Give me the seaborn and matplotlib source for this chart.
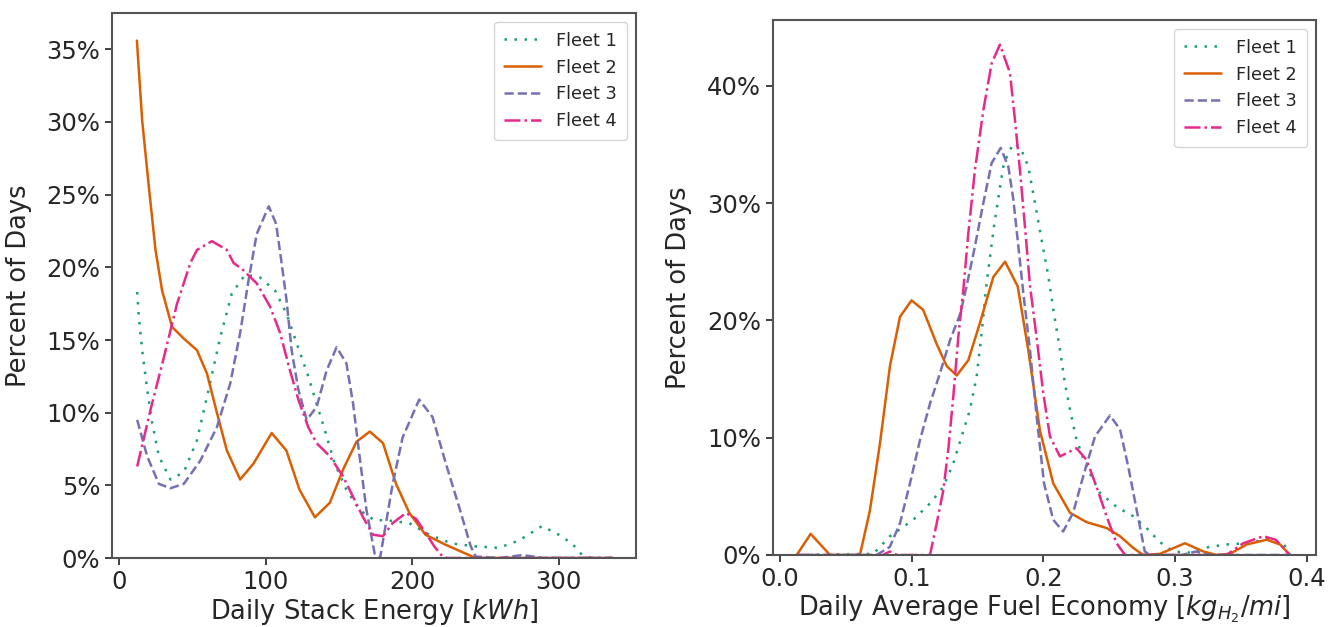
import numpy as np
import pandas as pd
import matplotlib
matplotlib.use("Agg")
import matplotlib.pyplot as plt
import seaborn as sns

# ---------------- data ----------------
fleets = ["Fleet 1", "Fleet 2", "Fleet 3", "Fleet 4"]

# Left panel: Daily Stack Energy [kWh] vs percent of days
e_f1_x = [12.2, 13.3, 15.6, 19, 22.4, 27, 34.9, 44, 53, 61, 68.9, 76.8, 85.9, 96, 106.3, 114.2, 122, 129, 134.7, 140.3, 147, 155, 164, 174, 182, 198, 211.5, 227, 243, 259, 272.7, 288.6, 300, 309, 316, 322.6, 337]
e_f1_y = [18.3, 16.6, 14.3, 11.6, 9.3, 7.0, 5.4, 5.9, 8.1, 11.6, 15.2, 18.2, 19.5, 19.3, 18.4, 16.8, 14.5, 12.5, 10.6, 8.8, 6.5, 4.7, 3.3, 2.6, 2.6, 2.4, 1.6, 1.0, 0.8, 0.7, 1.2, 2.2, 1.6, 1.0, 0.2, 0.0, 0.0]

e_f2_x = [12.0, 15.6, 20.2, 24.7, 29.2, 36, 44, 53, 59.8, 66.6, 73.4, 82.5, 91.6, 104, 114, 123, 133.5, 143.7, 152.8, 161.9, 171, 180, 188.9, 198, 209, 223, 241, 245, 337]
e_f2_y = [35.6, 30.1, 25.5, 21.2, 18.4, 15.9, 15.1, 14.3, 12.7, 10.0, 7.4, 5.4, 6.5, 8.6, 7.4, 4.7, 2.8, 3.8, 6.1, 8.0, 8.7, 7.9, 5.1, 3.1, 1.6, 0.9, 0.1, 0.0, 0.0]

e_f3_x = [12.2, 19, 27, 34.9, 44, 55.3, 66.6, 75.7, 82.5, 88.2, 93.8, 102, 107, 110.5, 114.2, 117.6, 122.2, 127.9, 134.7, 141.5, 148.3, 155, 159.6, 164, 168.7, 174.3, 178, 186.6, 193.4, 204.7, 213.8, 222.9, 232, 239.9, 243.3, 260, 275, 290, 337]
e_f3_y = [9.5, 7.0, 5.1, 4.8, 5.1, 6.7, 9.0, 12.0, 15.5, 19.1, 22.3, 24.2, 23.0, 20.5, 17.7, 14.3, 11.6, 9.5, 10.4, 12.9, 14.5, 13.4, 10.6, 7.0, 3.3, 0.3, 0.0, 5.1, 8.3, 10.9, 9.7, 6.5, 3.5, 0.8, 0.1, 0.0, 0.2, 0.0, 0.0]

e_f4_x = [12.2, 21.3, 30.4, 39.4, 48.5, 53, 63.2, 73.4, 78, 83.6, 93.8, 102.9, 109.7, 116.5, 122.2, 129, 134.7, 143.7, 152.8, 159.6, 166.4, 173.2, 180, 186.6, 195.7, 202.5, 209.3, 215, 220.6, 224, 337]
e_f4_y = [6.3, 10.2, 13.8, 17.5, 20.3, 21.2, 21.8, 21.2, 20.3, 19.9, 18.9, 17.3, 15.5, 12.9, 10.9, 9.0, 7.9, 7.0, 5.6, 4.2, 2.8, 1.6, 1.5, 2.4, 3.1, 2.7, 1.7, 0.8, 0.1, 0.0, 0.0]

# Right panel: Daily Average Fuel Economy [kg_H2/mi] vs percent of days
f_f1_x = [0.0127, 0.0709, 0.0835, 0.1012, 0.1139, 0.124, 0.1316, 0.1379, 0.1443, 0.1493, 0.1531, 0.1569, 0.1625, 0.1663, 0.170, 0.1772, 0.1827, 0.1886, 0.1936, 0.1986, 0.2037, 0.208, 0.2126, 0.2164, 0.2202, 0.2252, 0.2328, 0.2429, 0.2556, 0.2683, 0.2783, 0.2885, 0.2986, 0.31, 0.3215, 0.339, 0.3544, 0.372, 0.3822, 0.3872]
f_f1_y = [0.0, 0.1, 1.6, 3.0, 4.4, 5.8, 7.8, 10.1, 12.4, 15.2, 18.9, 23.2, 28.0, 30.8, 33.4, 35.1, 34.7, 33.1, 30.0, 26.9, 23.8, 20.6, 17.5, 14.6, 12.4, 9.8, 7.5, 5.3, 4.1, 3.3, 2.3, 1.1, 0.3, 0.2, 0.6, 0.9, 1.0, 1.4, 1.0, 0.0]

f_f2_x = [0.0127, 0.0233, 0.038, 0.0607, 0.0683, 0.0759, 0.0835, 0.0911, 0.0999, 0.1087, 0.1189, 0.1266, 0.1342, 0.143, 0.1519, 0.162, 0.1709, 0.1805, 0.1885, 0.1974, 0.2075, 0.2202, 0.2328, 0.248, 0.2582, 0.2683, 0.2758, 0.2885, 0.3075, 0.3215, 0.3316, 0.3417, 0.3544, 0.3696, 0.3797, 0.3872]
f_f2_y = [0.0, 1.8, 0.0, 0.0, 3.8, 9.5, 16.1, 20.3, 21.7, 20.9, 18.0, 16.1, 15.3, 16.6, 19.8, 23.7, 25.0, 22.9, 17.5, 10.6, 6.1, 3.6, 2.8, 2.3, 1.6, 0.6, 0.0, 0.1, 1.0, 0.3, 0.0, 0.1, 0.9, 1.3, 0.9, 0.0]

f_f3_x = [0.0127, 0.0734, 0.0835, 0.0911, 0.0987, 0.1063, 0.1139, 0.1215, 0.1291, 0.1367, 0.1417, 0.148, 0.1544, 0.1607, 0.1676, 0.1734, 0.1772, 0.181, 0.1848, 0.1898, 0.1949, 0.2005, 0.2075, 0.215, 0.2226, 0.2302, 0.2392, 0.2506, 0.2582, 0.2645, 0.2709, 0.277, 0.281, 0.305, 0.316, 0.326, 0.3872]
f_f3_y = [0.0, 0.0, 0.7, 2.7, 6.1, 9.8, 12.9, 15.5, 18.3, 20.5, 22.9, 26.3, 30.0, 33.4, 34.7, 33.1, 30.3, 26.3, 22.3, 17.5, 11.8, 6.1, 3.0, 2.0, 3.6, 6.7, 10.1, 11.9, 10.7, 7.5, 3.8, 0.3, 0.0, 0.0, 0.3, 0.0, 0.0]

f_f4_x = [0.0127, 0.078, 0.0835, 0.089, 0.1139, 0.119, 0.124, 0.1278, 0.1316, 0.1354, 0.1392, 0.1430, 0.148, 0.1544, 0.1607, 0.167, 0.1746, 0.1784, 0.1822, 0.186, 0.1898, 0.1949, 0.1999, 0.2050, 0.2126, 0.2252, 0.2328, 0.2404, 0.248, 0.2556, 0.262, 0.339, 0.3518, 0.367, 0.3764, 0.3872]
f_f4_y = [0.0, 0.0, 0.3, 0.0, 0.0, 2.7, 5.5, 9.0, 13.5, 18.6, 22.6, 27.4, 32.8, 37.9, 41.9, 43.5, 41.1, 37.1, 32.8, 28.0, 23.0, 18.5, 13.8, 10.1, 8.4, 9.1, 8.1, 5.8, 3.3, 1.0, 0.0, 0.0, 1.0, 1.6, 1.3, 0.0]

energy_ticks = [0, 100, 200, 300]
econ_ticks = [0.0, 0.1, 0.2, 0.3, 0.4]
energy_pct_ticks = [0, 5, 10, 15, 20, 25, 30, 35]
econ_pct_ticks = [0, 10, 20, 30, 40]

# ---------------- style ----------------
sns.set_theme(style="ticks")
plt.rcParams["font.family"] = ["DejaVu Sans"]
plt.rcParams["mathtext.fontset"] = "dejavusans"

colors = ["#1b9e77", "#d95f02", "#7570b3", "#e7298a"]
styles = [(0, (1, 3.0)), "-", "--", "-."]
lw = 1.8

fig = plt.figure(figsize=(13.3, 6.27), dpi=100)
ax1 = fig.add_axes([112 / 1330, 69 / 627, 524 / 1330, 545 / 627])
ax2 = fig.add_axes([773 / 1330, 72 / 627, 543 / 1330, 535 / 627])

left = [(e_f1_x, e_f1_y), (e_f2_x, e_f2_y), (e_f3_x, e_f3_y), (e_f4_x, e_f4_y)]
right = [(f_f1_x, f_f1_y), (f_f2_x, f_f2_y), (f_f3_x, f_f3_y), (f_f4_x, f_f4_y)]

for ax, series in [(ax1, left), (ax2, right)]:
    for name, (xs, ys), c, ls in zip(fleets, series, colors, styles):
        df = pd.DataFrame({"x": xs, "y": ys})
        sns.lineplot(data=df, x="x", y="y", ax=ax, color=c, linestyle=ls,
                     linewidth=lw, label=name, sort=False, estimator=None)
    for line in ax.get_lines():
        line.set_solid_joinstyle("round")
        line.set_dash_joinstyle("round")

ax1.set_xlim(-5.0, 352.7)
ax1.set_ylim(0, 37.5)
ax1.set_xticks(energy_ticks)
ax1.set_yticks(energy_pct_ticks)
ax1.set_yticklabels([f"{v}%" for v in energy_pct_ticks])
ax1.set_xlabel("Daily Stack Energy [$kWh$]", fontsize=18.5)
ax1.set_ylabel("Percent of Days", fontsize=18.5)
ax1.xaxis.set_label_coords(0.5, -0.072)
ax1.yaxis.set_label_coords(-0.153, 0.5)

ax2.set_xlim(-0.0053, 0.407)
ax2.set_ylim(0, 45.6)
ax2.set_xticks(econ_ticks)
ax2.set_xticklabels([f"{v:.1f}" for v in econ_ticks])
ax2.set_yticks(econ_pct_ticks)
ax2.set_yticklabels([f"{v}%" for v in econ_pct_ticks])
ax2.set_xlabel("Daily Average Fuel Economy [$kg_{H_2}/mi$]", fontsize=18.5)
ax2.set_ylabel("Percent of Days", fontsize=18.5)
ax2.xaxis.set_label_coords(0.5, -0.072)
ax2.yaxis.set_label_coords(-0.149, 0.5)

for ax in (ax1, ax2):
    ax.tick_params(axis="both", labelsize=17.5, length=5, width=1.3, color="#333333")
    for sp in ax.spines.values():
        sp.set_color("#555555")
        sp.set_linewidth(1.5)
    leg = ax.legend(loc="upper right", fontsize=12.8, frameon=True, fancybox=True,
                    handlelength=2.1, handletextpad=0.85, borderpad=0.55)
    leg.get_frame().set_edgecolor("#cccccc")

fig.savefig("out.png", dpi=100)
